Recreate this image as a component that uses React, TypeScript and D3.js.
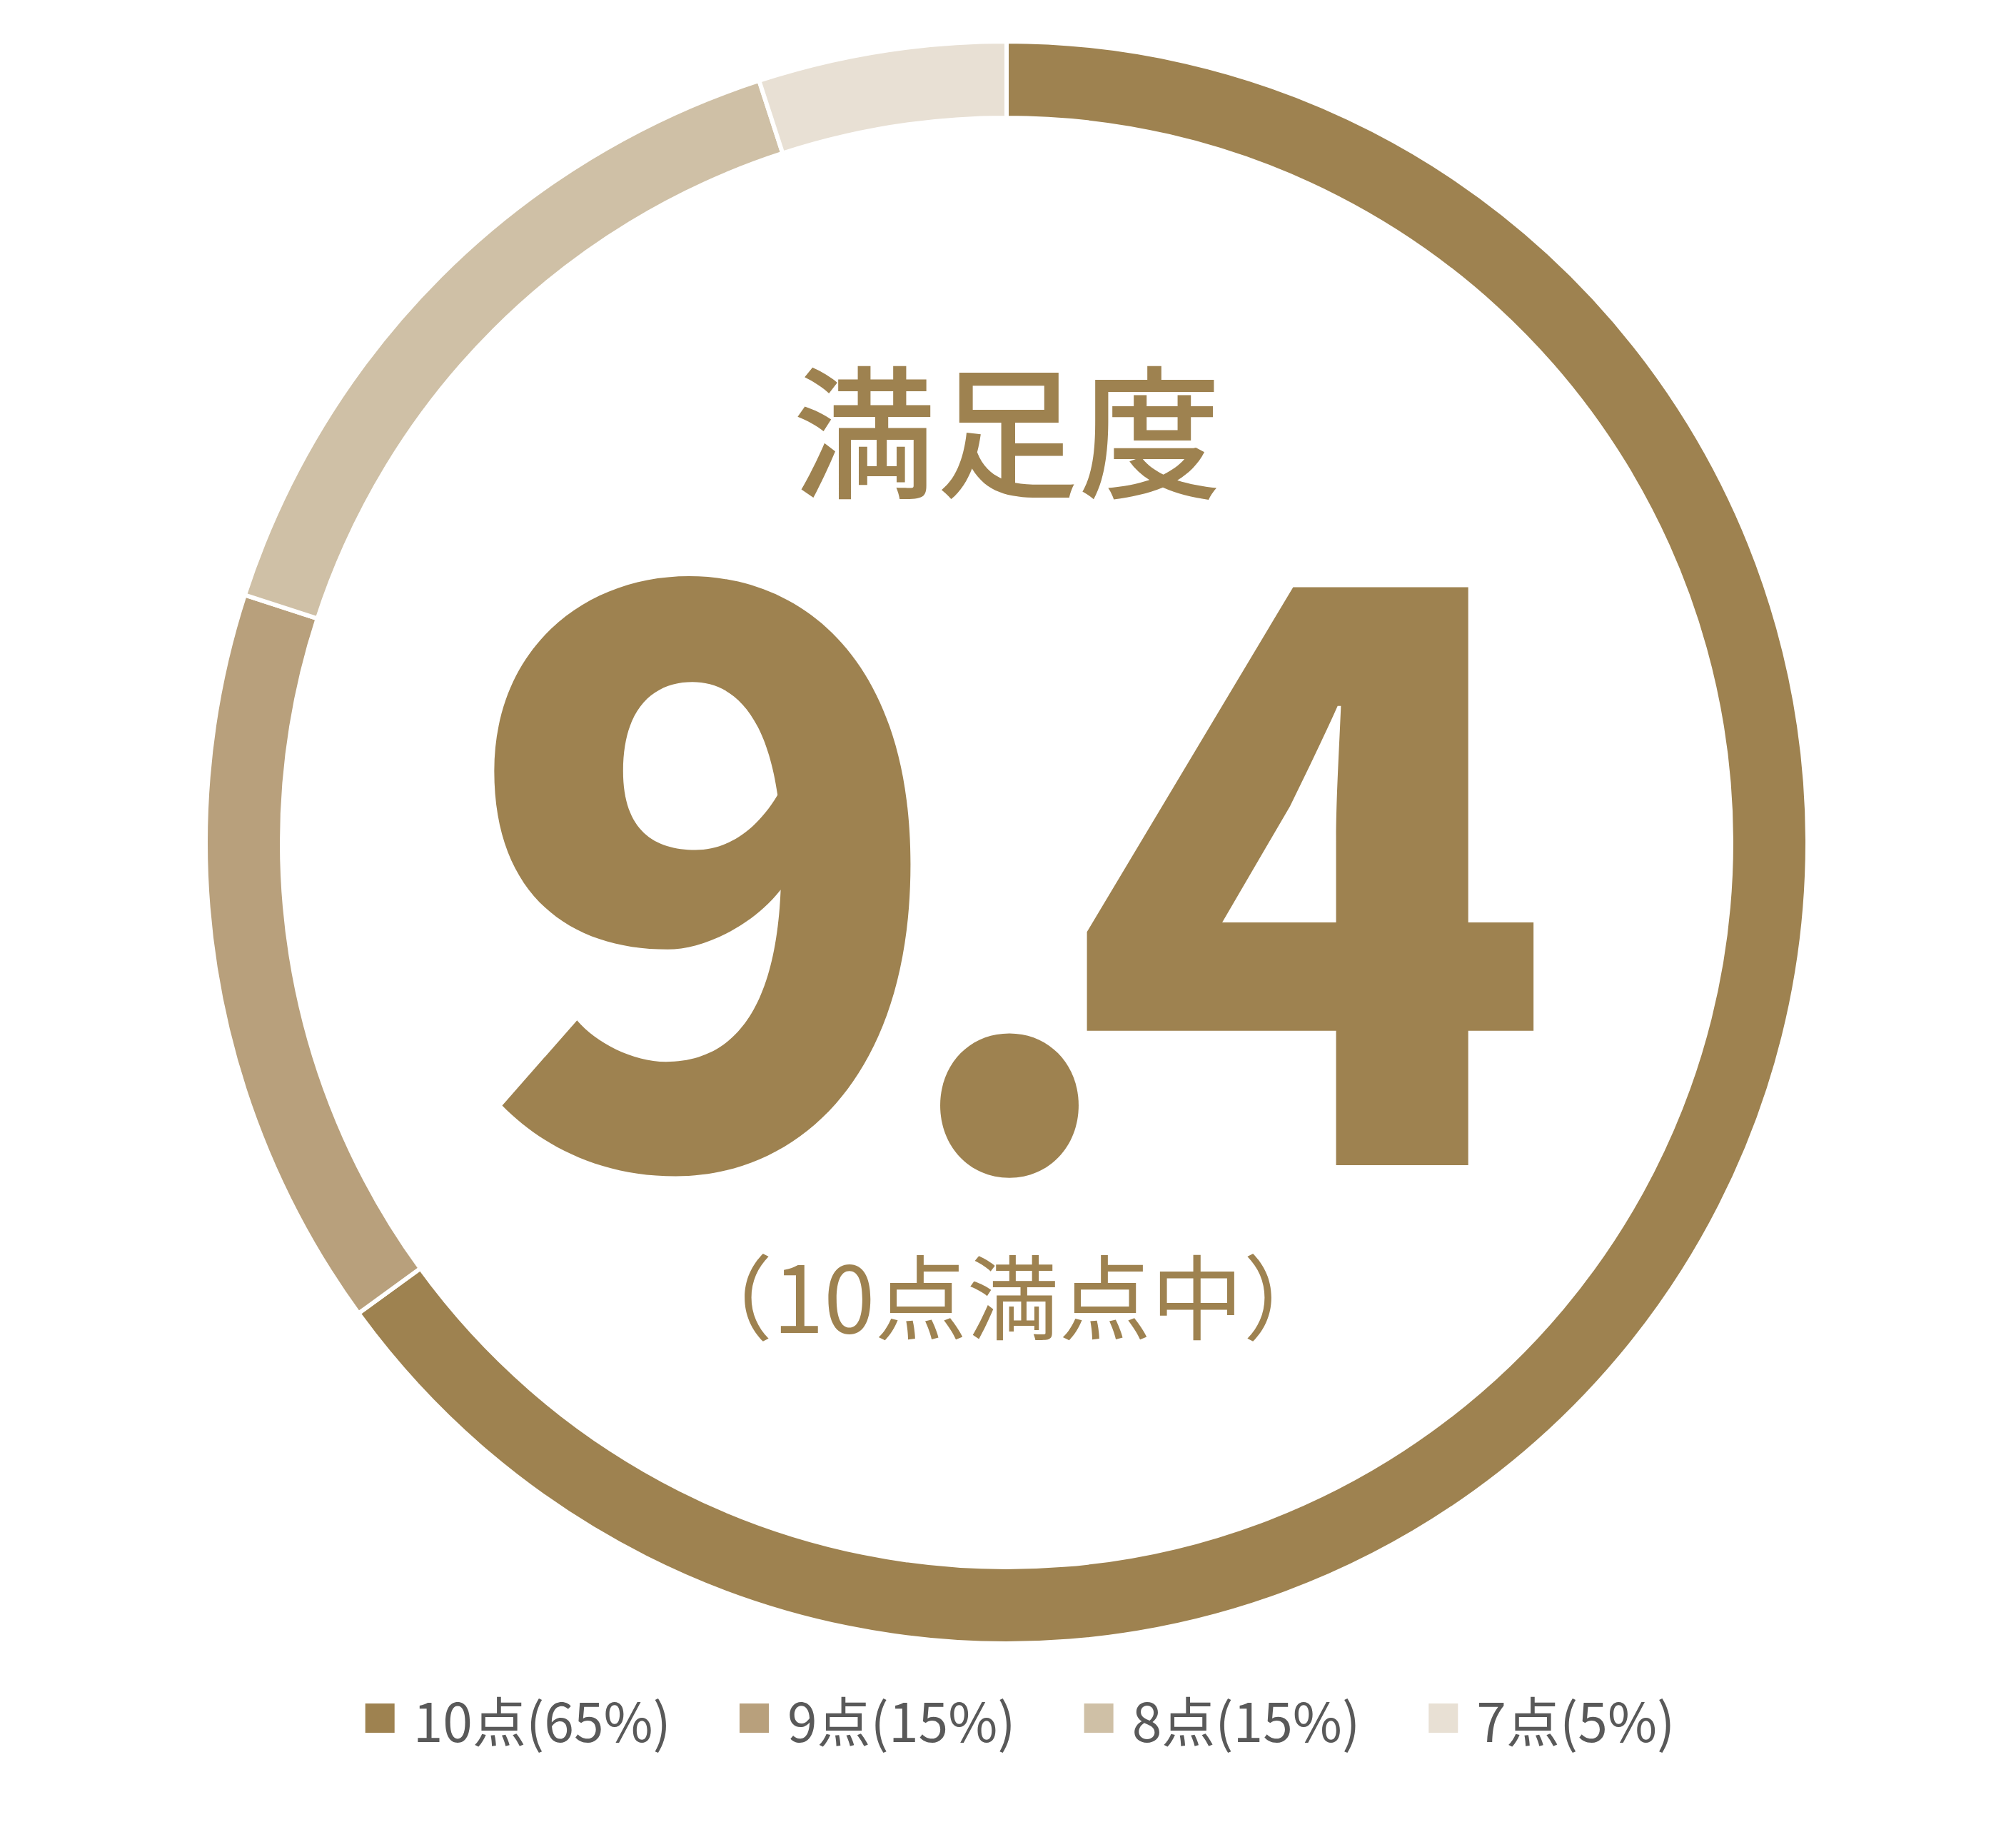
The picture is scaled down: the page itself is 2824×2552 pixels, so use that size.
import React, { useEffect, useRef } from "react";
import * as d3 from "d3";

const categories = ["10点", "9点", "8点", "7点"];
const shares = [65, 15, 15, 5];
const colors = ["#9e8250", "#b8a07c", "#cfc0a6", "#e8e0d4"];
const title = "満足度";
const scoreInt = "9";
const scoreDec = "4";
const subtitle = "（10点満点中）";

const W = 2824;
const H = 2552;
const CX = 1410;
const CY = 1180;
const R_OUT = 1122;
const R_IN = 1015;
const GOLD = "#9e8250";
const FONT = "'Noto Sans CJK JP', 'Noto Sans', sans-serif";

export default function App() {
  const ref = useRef<SVGSVGElement>(null);
  useEffect(() => {
    const svg = d3.select(ref.current);
    svg.selectAll("*").remove();
    const data = categories.map((c, i) => ({ c, v: shares[i], col: colors[i] }));
    const pie = d3.pie<any>().sort(null).value((d) => d.v).startAngle(0).endAngle(Math.PI * 2);
    const arc = d3.arc<any>().innerRadius(R_IN).outerRadius(R_OUT);
    const g = svg.append("g").attr("transform", `translate(${CX},${CY})`);
    g.selectAll("path")
      .data(pie(data))
      .join("path")
      .attr("d", arc as any)
      .attr("fill", (d: any) => d.data.col)
      .attr("stroke", "#fff")
      .attr("stroke-width", 6);

    svg.append("text")
      .attr("x", 1411).attr("y", 595)
      .attr("text-anchor", "middle").attr("dominant-baseline", "central")
      .attr("font-family", FONT).attr("font-size", 200).attr("font-weight", 500)
      .attr("fill", GOLD).text(title);

    const sc = svg.append("text")
      .attr("x", 0).attr("y", 1632)
      .attr("font-family", FONT).attr("font-size", 1115).attr("font-weight", 900)
      .attr("letter-spacing", -76)
      .attr("fill", GOLD);
    sc.append("tspan").text(scoreInt);
    sc.append("tspan").attr("font-size", 915).attr("dy", 5).text(".");
    sc.append("tspan").attr("dy", -5).text(scoreDec);
    const bb = (sc.node() as SVGTextElement).getBBox();
    const visW = bb.width + 76;
    sc.attr("x", 1443 - visW / 2);

    svg.append("text")
      .attr("x", 1412).attr("y", 1810)
      .attr("text-anchor", "middle").attr("dominant-baseline", "central")
      .attr("font-family", FONT).attr("font-size", 129).attr("font-weight", 400)
      .attr("fill", GOLD).text(subtitle);

    // legend
    const lg = svg.append("g");
    let x = 0;
    const sq = 41;
    const gapIn = 26;
    const gapOut = 96;
    categories.forEach((c, i) => {
      lg.append("rect").attr("x", x).attr("y", 2386).attr("width", sq).attr("height", sq).attr("fill", colors[i]);
      const t = lg.append("text")
        .attr("x", x + sq + gapIn).attr("y", 2407)
        .attr("dominant-baseline", "central")
        .attr("font-family", FONT).attr("font-size", 75).attr("font-weight", 400)
        .attr("fill", "#595959")
        .text(`${c}(${shares[i]}%)`);
      const w = (t.node() as SVGTextElement).getComputedTextLength();
      x += sq + gapIn + w + gapOut;
    });
    const total = x - gapOut;
    lg.attr("transform", `translate(${1429 - total / 2},0)`);
  }, []);
  return (
    <svg ref={ref} width={W} height={H} viewBox={`0 0 ${W} ${H}`}
      style={{ position: "absolute", left: 0, top: 0, background: "#fff" }} />
  );
}
